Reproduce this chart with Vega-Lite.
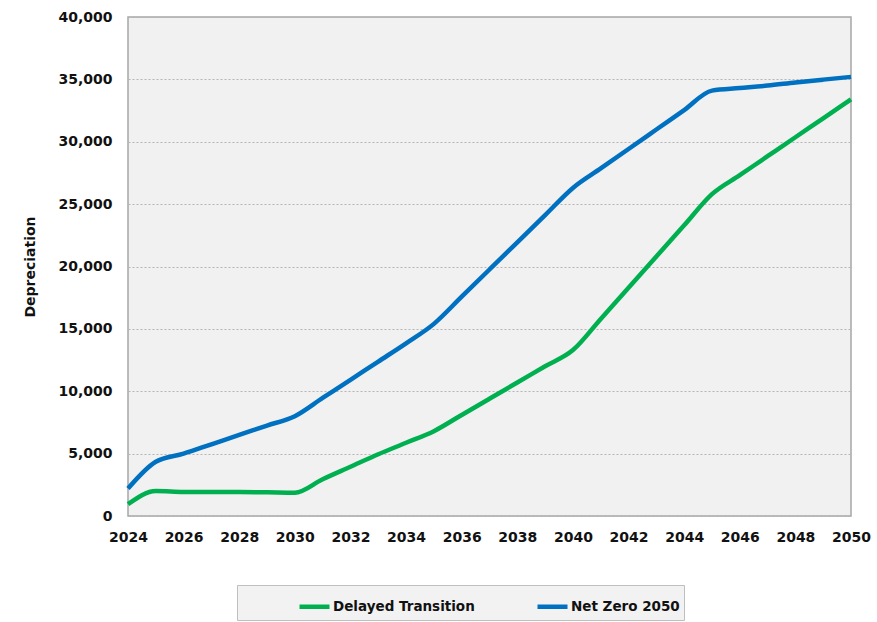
{
  "$schema": "https://vega.github.io/schema/vega-lite/v6.json",
  "autosize": "none",
  "padding": {"left": 128, "top": 17, "right": 26, "bottom": 106},
  "width": 723,
  "height": 499,
  "background": "white",
  "config": {
    "view": {"fill": "#f1f1f1", "stroke": "#a6a6a6", "strokeWidth": 1.5},
    "font": "DejaVu Sans"
  },
  "datasets": {
    "series": [
      {"year": 2024, "scenario": "Delayed Transition", "value": 950},
      {"year": 2025, "scenario": "Delayed Transition", "value": 2000},
      {"year": 2026, "scenario": "Delayed Transition", "value": 1930},
      {"year": 2027, "scenario": "Delayed Transition", "value": 1920},
      {"year": 2028, "scenario": "Delayed Transition", "value": 1920},
      {"year": 2029, "scenario": "Delayed Transition", "value": 1900},
      {"year": 2030, "scenario": "Delayed Transition", "value": 1870},
      {"year": 2031, "scenario": "Delayed Transition", "value": 2950},
      {"year": 2032, "scenario": "Delayed Transition", "value": 3950},
      {"year": 2033, "scenario": "Delayed Transition", "value": 4950},
      {"year": 2034, "scenario": "Delayed Transition", "value": 5870},
      {"year": 2035, "scenario": "Delayed Transition", "value": 6800},
      {"year": 2036, "scenario": "Delayed Transition", "value": 8100},
      {"year": 2037, "scenario": "Delayed Transition", "value": 9400},
      {"year": 2038, "scenario": "Delayed Transition", "value": 10700},
      {"year": 2039, "scenario": "Delayed Transition", "value": 12000},
      {"year": 2040, "scenario": "Delayed Transition", "value": 13300},
      {"year": 2041, "scenario": "Delayed Transition", "value": 15800},
      {"year": 2042, "scenario": "Delayed Transition", "value": 18300},
      {"year": 2043, "scenario": "Delayed Transition", "value": 20800},
      {"year": 2044, "scenario": "Delayed Transition", "value": 23300},
      {"year": 2045, "scenario": "Delayed Transition", "value": 25800},
      {"year": 2046, "scenario": "Delayed Transition", "value": 27320},
      {"year": 2047, "scenario": "Delayed Transition", "value": 28840},
      {"year": 2048, "scenario": "Delayed Transition", "value": 30360},
      {"year": 2049, "scenario": "Delayed Transition", "value": 31880},
      {"year": 2050, "scenario": "Delayed Transition", "value": 33400},
      {"year": 2024, "scenario": "Net Zero 2050", "value": 2200},
      {"year": 2025, "scenario": "Net Zero 2050", "value": 4350},
      {"year": 2026, "scenario": "Net Zero 2050", "value": 5000},
      {"year": 2027, "scenario": "Net Zero 2050", "value": 5750},
      {"year": 2028, "scenario": "Net Zero 2050", "value": 6500},
      {"year": 2029, "scenario": "Net Zero 2050", "value": 7250},
      {"year": 2030, "scenario": "Net Zero 2050", "value": 8000},
      {"year": 2031, "scenario": "Net Zero 2050", "value": 9460},
      {"year": 2032, "scenario": "Net Zero 2050", "value": 10920},
      {"year": 2033, "scenario": "Net Zero 2050", "value": 12380},
      {"year": 2034, "scenario": "Net Zero 2050", "value": 13840},
      {"year": 2035, "scenario": "Net Zero 2050", "value": 15400},
      {"year": 2036, "scenario": "Net Zero 2050", "value": 17580},
      {"year": 2037, "scenario": "Net Zero 2050", "value": 19760},
      {"year": 2038, "scenario": "Net Zero 2050", "value": 21940},
      {"year": 2039, "scenario": "Net Zero 2050", "value": 24120},
      {"year": 2040, "scenario": "Net Zero 2050", "value": 26300},
      {"year": 2041, "scenario": "Net Zero 2050", "value": 27860},
      {"year": 2042, "scenario": "Net Zero 2050", "value": 29420},
      {"year": 2043, "scenario": "Net Zero 2050", "value": 30980},
      {"year": 2044, "scenario": "Net Zero 2050", "value": 32540},
      {"year": 2045, "scenario": "Net Zero 2050", "value": 34100},
      {"year": 2046, "scenario": "Net Zero 2050", "value": 34300},
      {"year": 2047, "scenario": "Net Zero 2050", "value": 34500},
      {"year": 2048, "scenario": "Net Zero 2050", "value": 34750},
      {"year": 2049, "scenario": "Net Zero 2050", "value": 34980},
      {"year": 2050, "scenario": "Net Zero 2050", "value": 35200}
    ]
  },
  "data": {"name": "series"},
  "mark": {"type": "line", "interpolate": "monotone", "strokeWidth": 4.5},
  "encoding": {
    "x": {
      "field": "year", "type": "quantitative",
      "scale": {"domain": [2024, 2050], "nice": false, "zero": false},
      "axis": {
        "values": [2024, 2026, 2028, 2030, 2032, 2034, 2036, 2038, 2040, 2042, 2044, 2046, 2048, 2050],
        "format": "d", "title": null, "grid": false, "domain": false, "ticks": false,
        "labelPadding": 14, "labelFontSize": 14, "labelFontWeight": "bold", "labelColor": "#111111",
        "labelFlush": false
      }
    },
    "y": {
      "field": "value", "type": "quantitative",
      "scale": {"domain": [0, 40000], "nice": false},
      "axis": {
        "values": [0, 5000, 10000, 15000, 20000, 25000, 30000, 35000, 40000],
        "format": ",d", "title": "Depreciation", "titleFontSize": 14, "titleFontWeight": "bold",
        "titleColor": "#111111", "titlePadding": 20,
        "grid": true, "gridColor": "#b5b5b5", "gridDash": [2, 2], "gridWidth": 1,
        "domain": false, "ticks": false, "labelPadding": 16, "labelFontSize": 14,
        "labelFontWeight": "bold", "labelColor": "#111111"
      }
    },
    "color": {
      "field": "scenario", "type": "nominal",
      "scale": {"domain": ["Delayed Transition", "Net Zero 2050"], "range": ["#00b050", "#0070c0"]},
      "legend": {
        "title": " ", "titleOrient": "left", "titlePadding": 56, "titleFontSize": 13,
        "orient": "none", "direction": "horizontal",
        "legendX": 109, "legendY": 568,
        "fillColor": "#f2f2f2", "strokeColor": "#bfbfbf", "padding": 4,
        "symbolType": "stroke", "symbolStrokeWidth": 4.5, "symbolSize": 900,
        "labelFontSize": 13.5, "labelFontWeight": "bold", "labelColor": "#111111",
        "labelOffset": 1, "columnPadding": 53, "gridAlign": "all", "labelLimit": 300
      }
    }
  }
}
